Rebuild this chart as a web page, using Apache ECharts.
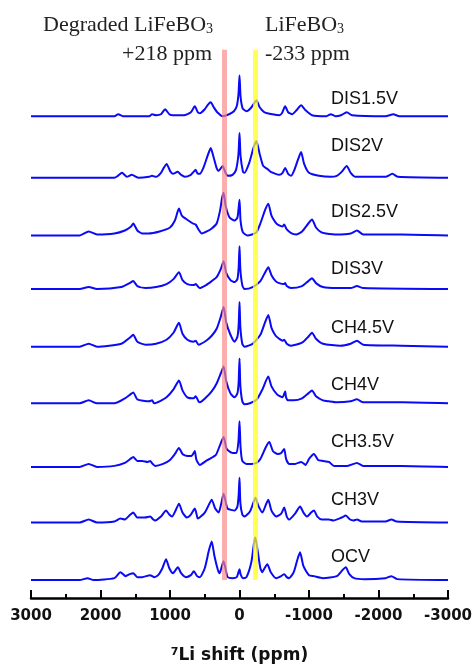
<!DOCTYPE html>
<html>
<head>
<meta charset="utf-8">
<script src="https://cdn.jsdelivr.net/npm/echarts@6/dist/echarts.min.js"></script>
<style>html,body{margin:0;padding:0;background:#fff}#c{width:475px;height:669px}</style>
</head>
<body>
<div id="c"></div>
<script>
// Trace names, top to bottom
const traceNames = ['DIS1.5V','DIS2V','DIS2.5V','DIS3V','CH4.5V','CH4V','CH3.5V','CH3V','OCV'];
// Vertical offset of each trace baseline (plot units)
const traceOffsets = [485, 423, 365, 311, 253, 196, 132, 76, 18];
// Marker lines (ppm)
const bandPositions = [218, -233];
const xTicks = [3000, 2000, 1000, 0, -1000, -2000, -3000];

// Spectra: [ppm, intensity above baseline]
const dis15 = [[3000,0],[2000,0],[1800,0],[1743,2],[1680,0],[1300,0],[1257,2],[1200,1],[1130,2],[1071,7],[1010,2],[960,1],[800,1],[700,4],[643,10],[600,4],[571,3],[500,7],[450,12],[414,14],[370,9],[320,4],[243,0],[150,2],[80,5],[40,10],[15,22],[0,41],[-15,20],[-45,8],[-100,5],[-160,8],[-210,13],[-243,16],[-290,9],[-357,4],[-400,3],[-470,2],[-571,1],[-610,3],[-657,10],[-700,4],[-757,2],[-820,6],[-886,11],[-950,6],[-1043,1],[-1250,0],[-1314,2],[-1380,0],[-1460,1],[-1543,4],[-1620,1],[-2100,0],[-2214,2],[-2300,0],[-3000,0]];
const dis2 = [[3000,0],[1800,0],[1750,2],[1690,5],[1620,1],[1550,3],[1450,0],[1300,1],[1260,2],[1200,1],[1130,5],[1090,10],[1048,14],[1000,7],[957,4],[890,6],[840,3],[786,1],[700,3],[660,6],[631,8],[600,4],[571,4],[520,10],[460,22],[414,30],[370,20],[330,10],[300,7],[243,12],[200,5],[171,2],[100,3],[50,8],[15,24],[0,45],[-15,22],[-50,6],[-71,5],[-140,15],[-200,30],[-243,37],[-290,24],[-340,12],[-400,9],[-450,6],[-520,4],[-571,3],[-620,5],[-657,10],[-700,4],[-743,2],[-790,8],[-840,18],[-886,26],[-930,14],[-1000,5],[-1143,2],[-1314,1],[-1400,2],[-1470,6],[-1543,12],[-1600,5],[-1670,1],[-2100,1],[-2200,4],[-2280,1],[-3000,0]];
const dis25 = [[3000,0],[2300,0],[2170,4],[2050,1],[1800,2],[1650,5],[1560,9],[1529,12],[1470,5],[1400,2],[1314,2],[1150,4],[1000,8],[930,15],[871,27],[830,20],[757,16],[671,12],[631,11],[590,6],[543,2],[470,4],[400,7],[329,12],[280,25],[250,38],[229,43],[200,30],[143,18],[71,15],[30,18],[15,26],[0,36],[-15,15],[-50,3],[-114,0],[-180,1],[-243,3],[-300,12],[-370,26],[-414,32],[-460,20],[-520,13],[-571,10],[-620,9],[-643,11],[-680,6],[-750,2],[-814,1],[-900,4],[-990,12],[-1043,16],[-1100,8],[-1180,3],[-1243,2],[-1400,1],[-1600,2],[-1690,5],[-1780,1],[-2329,1],[-3000,0]];
const dis3 = [[3000,0],[2300,0],[2170,2],[2050,0],[1700,2],[1580,6],[1529,8],[1470,3],[1350,1],[1200,2],[1050,5],[950,10],[871,17],[820,9],[750,5],[660,4],[631,5],[590,2],[571,1],[480,4],[400,8],[329,12],[270,20],[229,28],[190,16],[130,9],[71,7],[30,10],[12,22],[0,43],[-12,20],[-40,4],[-71,0],[-190,2],[-300,8],[-370,17],[-414,22],[-460,14],[-520,8],[-571,6],[-640,5],[-657,6],[-680,3],[-743,1],[-900,3],[-990,8],[-1043,11],[-1100,6],[-1200,2],[-1400,1],[-1600,1],[-1690,3],[-1780,1],[-3000,0]];
const ch45 = [[3000,0],[2300,0],[2170,3],[2050,0],[1700,3],[1580,9],[1529,12],[1470,5],[1350,2],[1200,3],[1050,7],[950,14],[871,24],[820,13],[750,7],[660,5],[631,6],[590,2],[480,6],[400,11],[329,18],[270,30],[229,40],[190,24],[130,12],[71,5],[30,10],[12,22],[0,45],[-12,20],[-40,3],[-71,0],[-190,3],[-300,12],[-370,25],[-414,32],[-460,19],[-520,11],[-571,8],[-620,6],[-643,7],[-680,3],[-743,1],[-900,4],[-990,10],[-1043,14],[-1100,8],[-1200,3],[-1450,1],[-1600,3],[-1690,6],[-1780,2],[-2329,1],[-3000,0]];
const ch4 = [[3000,0],[2300,0],[2170,3],[2050,0],[1800,0],[1650,5],[1570,9],[1529,11],[1470,4],[1300,2],[1257,3],[1230,0],[1150,2],[1050,6],[950,14],[871,23],[820,13],[750,6],[660,5],[631,7],[590,2],[571,1],[480,6],[400,12],[329,20],[270,30],[229,37],[190,22],[130,10],[71,6],[30,10],[12,22],[0,45],[-12,18],[-40,2],[-71,-1],[-150,0],[-250,4],[-330,14],[-414,27],[-460,17],[-540,9],[-620,6],[-645,10],[-657,12],[-670,6],[-700,3],[-780,3],[-900,5],[-990,10],[-1043,13],[-1100,7],[-1200,3],[-1286,2],[-1400,1],[-1600,2],[-1690,4],[-1780,1],[-2350,1],[-3000,0]];
const ch35 = [[3000,0],[2300,0],[2170,3],[2050,0],[1800,1],[1650,4],[1570,8],[1529,10],[1470,6],[1400,6],[1320,5],[1286,6],[1250,3],[1214,1],[1100,3],[1000,7],[930,13],[871,19],[820,13],[750,11],[690,11],[660,14],[643,16],[620,7],[571,2],[480,6],[429,8],[340,12],[280,22],[229,30],[190,19],[171,17],[100,14],[43,14],[15,26],[0,46],[-15,20],[-40,6],[-100,3],[-171,3],[-243,4],[-300,8],[-380,20],[-429,25],[-480,16],[-550,13],[-600,14],[-643,18],[-670,8],[-714,3],[-800,3],[-886,5],[-950,2],[-1000,8],[-1071,13],[-1130,7],[-1200,6],[-1286,5],[-1360,1],[-1550,1],[-1690,4],[-1780,1],[-2329,1],[-3000,0]];
const ch3 = [[3000,0],[2300,0],[2170,3],[2050,0],[1800,1],[1714,4],[1650,3],[1570,8],[1529,10],[1470,5],[1360,5],[1286,6],[1240,3],[1214,2],[1130,6],[1057,12],[1010,8],[971,6],[920,12],[871,19],[820,10],[757,5],[700,8],[643,14],[610,6],[600,4],[500,10],[440,18],[400,23],[350,14],[300,10],[260,20],[229,29],[190,18],[171,14],[71,12],[30,16],[12,28],[0,45],[-12,20],[-40,8],[-71,6],[-150,11],[-200,20],[-229,25],[-270,17],[-329,10],[-380,18],[-414,23],[-460,12],[-529,6],[-600,9],[-643,15],[-680,6],[-714,3],[-800,9],[-871,16],[-920,10],[-971,6],[-1030,10],[-1071,12],[-1120,6],[-1186,3],[-1286,3],[-1350,2],[-1470,5],[-1529,7],[-1590,3],[-1640,2],[-1690,3],[-1760,1],[-2100,1],[-2186,3],[-2260,1],[-3000,0]];
const ocv = [[3000,0],[2300,0],[2186,2],[2100,0],[1800,2],[1714,8],[1660,5],[1640,4],[1580,6],[1529,7],[1470,3],[1400,3],[1286,5],[1230,3],[1171,5],[1110,12],[1057,21],[1010,12],[957,7],[886,13],[840,7],[771,3],[700,5],[657,9],[610,4],[571,3],[500,12],[440,30],[400,39],[360,24],[310,10],[286,7],[250,15],[229,19],[190,8],[171,3],[100,2],[40,3],[15,8],[0,11],[-15,6],[-50,2],[-100,3],[-170,18],[-210,38],[-229,43],[-260,30],[-300,12],[-329,8],[-360,12],[-400,16],[-450,8],[-529,2],[-600,4],[-643,6],[-680,3],[-714,2],[-780,8],[-830,20],[-871,28],[-920,14],[-1000,5],[-1071,4],[-1200,2],[-1400,4],[-1480,10],[-1529,13],[-1580,6],[-1650,2],[-1800,1],[-2100,2],[-2186,4],[-2270,1],[-3000,0]];

const spectra = [dis15, dis2, dis25, dis3, ch45, ch4, ch35, ch3, ocv];

const chart = echarts.init(document.getElementById('c'), null, {renderer: 'canvas'});

const series = spectra.map((sp, i) => ({
  type: 'line',
  name: traceNames[i],
  data: sp.map(p => [p[0], p[1] + traceOffsets[i]]),
  showSymbol: false,
  symbol: 'none',
  smooth: 0.2,
  lineStyle: {color: '#0a0af5', width: 2},
  z: 2,
  silent: true
}));

const bandColors = ['rgba(247,135,135,0.68)', 'rgba(255,255,20,0.72)'];
series.push({
  type: 'line',
  data: [],
  silent: true,
  z: 5,
  markLine: {
    silent: true,
    symbol: 'none',
    label: {show: false},
    data: bandPositions.map((b, k) => [
      {coord: [b, 18], lineStyle: {color: bandColors[k], width: 5, type: 'solid'}},
      {coord: [b, 552]}
    ])
  }
});

const labelYs = [99, 146, 212, 269, 328, 385, 442, 500, 557];
const graphics = traceNames.map((n, i) => ({
  type: 'text', x: 331, y: labelYs[i], z: 10,
  style: {text: n, fontSize: 18, fontFamily: 'Liberation Sans, Arial, sans-serif', fill: '#111', align: 'left', verticalAlign: 'middle'}
}));

const serifFont = 'Liberation Serif, Times New Roman, serif';
const serifRich = {
  s: {fontSize: 14, fontFamily: serifFont, fill: '#222', verticalAlign: 'bottom', lineHeight: 14}
};
graphics.push(
  {type: 'text', x: 43, y: 25, style: {text: 'Degraded LiFeBO{s|3}', fontSize: 22, fontFamily: serifFont, fill: '#222', align: 'left', verticalAlign: 'middle', rich: serifRich}},
  {type: 'text', x: 212, y: 54, style: {text: '+' + bandPositions[0] + ' ppm', fontSize: 22, fontFamily: serifFont, fill: '#222', align: 'right', verticalAlign: 'middle'}},
  {type: 'text', x: 265, y: 25, style: {text: 'LiFeBO{s|3}', fontSize: 22, fontFamily: serifFont, fill: '#222', align: 'left', verticalAlign: 'middle', rich: serifRich}},
  {type: 'text', x: 265, y: 54, style: {text: bandPositions[1] + ' ppm', fontSize: 22, fontFamily: serifFont, fill: '#222', align: 'left', verticalAlign: 'middle'}}
);

chart.setOption({
  animation: false,
  backgroundColor: '#fff',
  grid: {left: 31, right: 25, top: 0, bottom: 67, containLabel: false},
  xAxis: {
    type: 'value', min: -3000, max: 3000, interval: 1000, inverse: true,
    name: '{sup|7}Li shift (ppm)', nameLocation: 'middle', nameGap: 49,
    nameTextStyle: {fontSize: 17, fontWeight: 'bold', fontFamily: 'DejaVu Sans, sans-serif', color: '#111',
      rich: {sup: {fontSize: 11, fontWeight: 'bold', fontFamily: 'DejaVu Sans, sans-serif', color: '#111', verticalAlign: 'top', lineHeight: 11, padding: [0, 0, 6, 0]}}},
    axisLine: {show: true, onZero: false, lineStyle: {color: '#000', width: 2.5}},
    axisTick: {show: true, inside: true, length: 8, lineStyle: {color: '#000', width: 2}},
    minorTick: {show: true, splitNumber: 2, length: 4, lineStyle: {color: '#000', width: 2}},
    splitLine: {show: false},
    axisLabel: {margin: 11, fontSize: 15, fontWeight: 'bold', fontFamily: 'DejaVu Sans, sans-serif', color: '#111',
      formatter: v => xTicks.includes(v) ? String(v) : ''}
  },
  yAxis: {type: 'value', min: 0, max: 602, show: false},
  series: series,
  graphic: graphics
});
</script>
</body>
</html>
